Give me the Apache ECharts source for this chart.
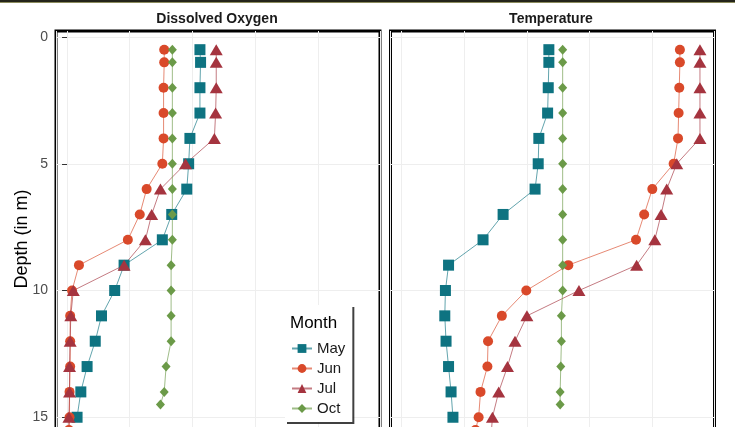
<!DOCTYPE html>
<html><head><meta charset="utf-8">
<script src="https://cdn.jsdelivr.net/npm/echarts@6/dist/echarts.min.js"></script>
<style>html,body{margin:0;padding:0;background:#fff}#c{width:735px;height:427px}</style>
</head><body><div id="c"></div>
<script>
const months = ['May', 'Jun', 'Jul', 'Oct'];
const panelTitles = ['Dissolved Oxygen', 'Temperature'];
const yTicks = [0, 5, 10, 15, 20];

const depthMay = [0.5, 1, 2, 3, 4, 5, 6, 7, 8, 9, 10, 11, 12, 13, 14, 15];
const depthJun = [0.5, 1, 2, 3, 4, 5, 6, 7, 8, 9, 10, 11, 12, 13, 14, 15, 15.5];
const depthJul = [0.5, 1, 2, 3, 4, 5, 6, 7, 8, 9, 10, 11, 12, 13, 14, 15, 16];
const depthOct = [0.5, 1, 2, 3, 4, 5, 6, 7, 8, 9, 10, 11, 12, 13, 14, 14.5];

const doMay = [10.6, 10.65, 10.6, 10.6, 9.8, 9.7, 9.55, 8.35, 7.6, 4.55, 3.8, 2.75, 2.25, 1.6, 1.1, 0.8];
const doJun = [7.75, 7.75, 7.7, 7.7, 7.7, 7.6, 6.35, 5.8, 4.85, 0.95, 0.4, 0.25, 0.25, 0.25, 0.2, 0.2, 0.15];
const doJul = [11.9, 11.9, 11.9, 11.85, 11.75, 9.45, 7.45, 6.75, 6.25, 4.55, 0.5, 0.3, 0.25, 0.2, 0.2, 0.15, 0.15];
const doOct = [8.4, 8.4, 8.4, 8.4, 8.4, 8.4, 8.4, 8.4, 8.4, 8.3, 8.3, 8.3, 8.3, 7.9, 7.75, 7.45];

const tMay = [11.75, 11.75, 11.7, 11.65, 10.95, 10.9, 10.65, 8.1, 6.5, 3.75, 3.5, 3.45, 3.55, 3.75, 3.95, 4.1];
const tJun = [22.2, 22.2, 22.15, 22.1, 22.05, 21.7, 20.0, 19.35, 18.7, 13.3, 9.95, 8.0, 6.9, 6.85, 6.3, 6.15, 5.9];
const tJul = [23.8, 23.8, 23.8, 23.8, 23.8, 21.95, 21.15, 20.7, 20.2, 18.75, 14.15, 10.0, 9.05, 8.45, 7.75, 7.25, 7.1];
const tOct = [12.85, 12.85, 12.85, 12.85, 12.85, 12.85, 12.85, 12.85, 12.85, 12.85, 12.85, 12.75, 12.75, 12.7, 12.65, 12.65];

const colors = { May: '#0e7381', Jun: '#d9492a', Jul: '#a5343f', Oct: '#6b9a48' };
const symbols = { May: 'rect', Jun: 'circle', Jul: 'triangle', Oct: 'diamond' };
const symSizes = { May: 11, Jun: 10, Jul: [13, 11], Oct: [9, 10] };

const depths = { May: depthMay, Jun: depthJun, Jul: depthJul, Oct: depthOct };
const panelData = [
  { May: doMay, Jun: doJun, Jul: doJul, Oct: doOct },
  { May: tMay, Jun: tJun, Jul: tJul, Oct: tOct }
];

const FONT = '"Liberation Sans", Arial, sans-serif';

const series = [];
panelData.forEach((pd, pi) => {
  months.forEach(m => {
    series.push({
      name: m,
      type: 'line',
      xAxisIndex: pi,
      yAxisIndex: pi,
      data: pd[m].map((v, i) => [v, depths[m][i]]),
      symbol: symbols[m],
      symbolSize: symSizes[m],
      showAllSymbol: true,
      itemStyle: { color: colors[m], opacity: 1 },
      lineStyle: { color: colors[m], width: 1, opacity: 0.65 },
      emphasis: { disabled: true },
      animation: false
    });
  });
});

const gridCommon = {
  top: 31, height: 513, show: true, borderColor: '#000', borderWidth: 3,
  backgroundColor: 'transparent', containLabel: false, outerBoundsMode: 'none'
};

function xAx(gi) {
  return {
    type: 'value', gridIndex: gi, min: -0.88, max: 24.96, minInterval: 5, maxInterval: 5,
    axisLabel: { show: false }, axisTick: { show: false }, axisLine: { show: false },
    splitLine: { show: true, lineStyle: { color: '#eeeeee', width: 1 } }
  };
}
function yAx(gi, showLabels) {
  return {
    type: 'value', gridIndex: gi, inverse: true, min: -0.237, max: 20, minInterval: 5, maxInterval: 5,
    axisLine: { show: false },
    axisTick: { show: showLabels, length: 5, customValues: yTicks, lineStyle: { color: '#333' } },
    axisLabel: {
      show: showLabels, customValues: yTicks, margin: 8, color: '#4d4d4d', fontSize: 14, fontFamily: FONT,
      formatter: v => (v % 5 === 0 ? String(v) : '')
    },
    splitLine: { show: true, lineStyle: { color: '#eeeeee', width: 1 } }
  };
}

const option = {
  animation: false,
  backgroundColor: '#fff',
  grid: [
    Object.assign({ left: 56, width: 324 }, gridCommon),
    Object.assign({ left: 390.5, width: 324 }, gridCommon)
  ],
  xAxis: [xAx(0), xAx(1)],
  yAxis: [yAx(0, true), yAx(1, false)],
  legend: {
    data: months,
    orient: 'vertical',
    left: 285, top: 305,
    padding: [36, 7, 6, 6],
    itemWidth: 20, itemHeight: 11, itemGap: 5,
    textStyle: { fontSize: 15, color: '#1a1a1a', fontFamily: FONT },
    backgroundColor: '#ffffff',
    shadowColor: 'rgba(0,0,0,0.75)', shadowOffsetX: 2, shadowOffsetY: 2, shadowBlur: 0,
    selectedMode: false,
    z: 20
  },
  graphic: [
    { type: 'rect', z: 100, shape: { x: 0, y: 0, width: 735, height: 2 }, style: { fill: '#24241a' } },
    { type: 'rect', z: 100, shape: { x: 0, y: 2, width: 735, height: 1 }, style: { fill: '#8c8c5e' } },
    { type: 'text', z: 100, x: 217, y: 19, style: { text: panelTitles[0], font: 'bold 14px ' + FONT, fill: '#1a1a1a', textAlign: 'center', textVerticalAlign: 'middle' } },
    { type: 'text', z: 100, x: 551, y: 19, style: { text: panelTitles[1], font: 'bold 14px ' + FONT, fill: '#1a1a1a', textAlign: 'center', textVerticalAlign: 'middle' } },
    { type: 'text', z: 100, x: 22, y: 239, rotation: Math.PI / 2, style: { text: 'Depth (in m)', font: '18px ' + FONT, fill: '#000', textAlign: 'center', textVerticalAlign: 'middle' } },
    { type: 'text', z: 100, x: 290, y: 323, style: { text: 'Month', font: '17px ' + FONT, fill: '#000', textAlign: 'left', textVerticalAlign: 'middle' } }
  ],
  series: series
};

const chart = echarts.init(document.getElementById('c'), null, { renderer: 'canvas' });
chart.setOption(option);
</script>
</body></html>
